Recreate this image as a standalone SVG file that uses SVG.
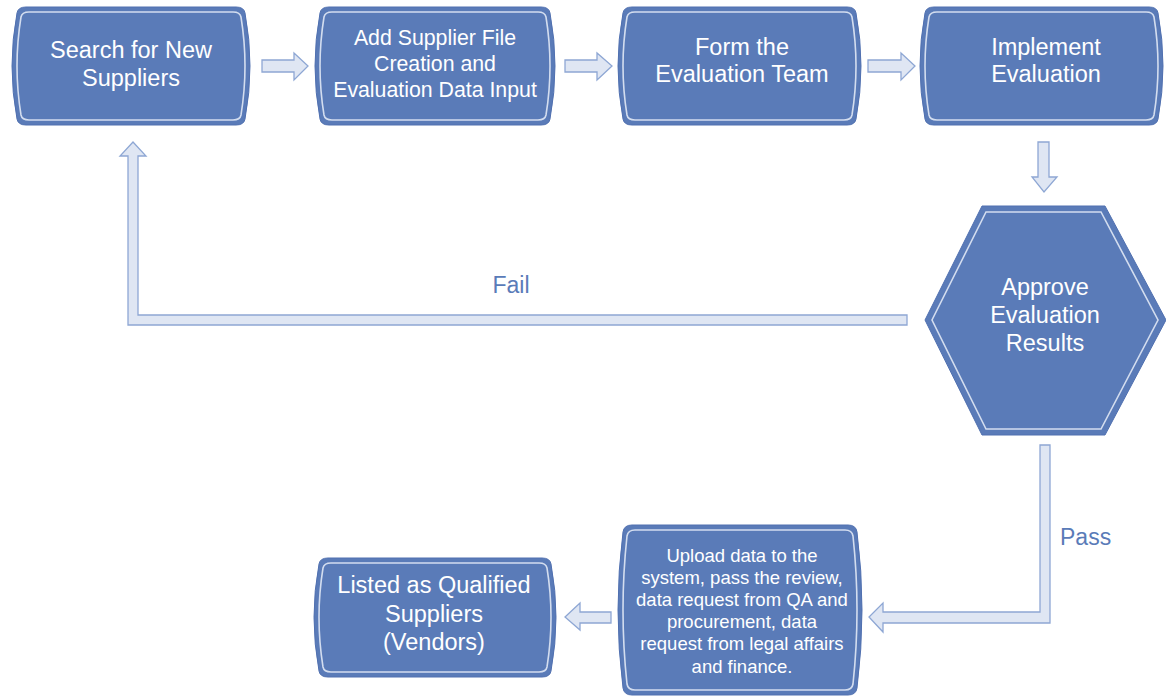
<svg xmlns="http://www.w3.org/2000/svg" width="1166" height="699" viewBox="0 0 1166 699">
<style>
.node{fill:#5a7bb8;stroke:#5070b0;stroke-width:1}
.inner{fill:none;stroke:#d3ddef;stroke-width:1.6}
.t{font-family:"Liberation Sans",Arial,sans-serif;fill:#ffffff;text-anchor:middle}
.lbl{font-family:"Liberation Sans",Arial,sans-serif;fill:#5a7bb8;font-size:23px}
.conn{fill:#dfe6f3;stroke:#8ea7d4;stroke-width:1.3;stroke-linejoin:miter}
</style>
<rect width="1166" height="699" fill="#ffffff"/>
<g id="connectors">
<polygon class="conn" points="262,60 294,60 294,53 308,66 294,80 294,72 262,72"/>
<polygon class="conn" points="565,60 597,60 597,53 612,66 597,80 597,72 565,72"/>
<polygon class="conn" points="868,60 901,60 901,53 915,66 901,80 901,72 868,72"/>
<polygon class="conn" points="1038,142 1049,142 1049,177 1057,177 1044,192 1032,177 1038,177"/>
<polygon class="conn" points="907,315 138,315 138,156 146,156 133,142 120,156 128,156 128,325 907,325"/>
<polygon class="conn" points="1040,445 1050,445 1050,623 883,623 883,632 869,617 883,603 883,612 1040,612"/>
<polygon class="conn" points="611,612 580,612 580,603 565,617 580,630 580,623 611,623"/>
<text class="lbl" x="511" y="293" text-anchor="middle">Fail</text>
<text class="lbl" x="1060" y="545">Pass</text>
</g>
<g id="n1">
<path class="node" d="M26,7 H236 Q244,7 245,13 Q255,66 245,119 Q244,125 236,125 H26 Q18,125 17,119 Q7,66 17,13 Q18,7 26,7 Z"/>
<path class="inner" d="M29,12 H233 Q240,12 241,17 Q249,66 241,115 Q240,120 233,120 H29 Q22,120 21,115 Q13,66 21,17 Q22,12 29,12 Z"/>
<text class="t" font-size="23.5"><tspan x="131" y="58">Search for New</tspan><tspan x="131" y="86">Suppliers</tspan></text>
</g>
<g id="n2">
<path class="node" d="M329,7 H541 Q549,7 550,13 Q560,66 550,119 Q549,125 541,125 H329 Q321,125 320,119 Q310,66 320,13 Q321,7 329,7 Z"/>
<path class="inner" d="M332,12 H538 Q545,12 546,17 Q554,66 546,115 Q545,120 538,120 H332 Q325,120 324,115 Q316,66 324,17 Q325,12 332,12 Z"/>
<text class="t" font-size="21.3"><tspan x="435" y="45">Add Supplier File</tspan><tspan x="435" y="71">Creation and</tspan><tspan x="435" y="97">Evaluation Data Input</tspan></text>
</g>
<g id="n3">
<path class="node" d="M632,7 H847 Q855,7 856,13 Q866,66 856,119 Q855,125 847,125 H632 Q624,125 623,119 Q613,66 623,13 Q624,7 632,7 Z"/>
<path class="inner" d="M635,12 H844 Q851,12 852,17 Q860,66 852,115 Q851,120 844,120 H635 Q628,120 627,115 Q619,66 627,17 Q628,12 635,12 Z"/>
<text class="t" font-size="23.5"><tspan x="742" y="55">Form the</tspan><tspan x="742" y="82">Evaluation Team</tspan></text>
</g>
<g id="n4">
<path class="node" d="M934,7 H1149 Q1157,7 1158,13 Q1168,66 1158,119 Q1157,125 1149,125 H934 Q926,125 925,119 Q915,66 925,13 Q926,7 934,7 Z"/>
<path class="inner" d="M937,12 H1146 Q1153,12 1154,17 Q1162,66 1154,115 Q1153,120 1146,120 H937 Q930,120 929,115 Q921,66 929,17 Q930,12 937,12 Z"/>
<text class="t" font-size="23.5"><tspan x="1046" y="55">Implement</tspan><tspan x="1046" y="82">Evaluation</tspan></text>
</g>
<g id="n5">
<path class="node" d="M982,206 H1105 L1166,320 L1105,435 H982 L925,320 Z"/>
<path class="inner" d="M986,212 H1101 L1158,320 L1101,429 H986 L932,320 Z"/>
<text class="t" font-size="23.5"><tspan x="1045" y="295">Approve</tspan><tspan x="1045" y="323">Evaluation</tspan><tspan x="1045" y="351">Results</tspan></text>
</g>
<g id="n6">
<path class="node" d="M632,525 H848 Q856,525 857,532 Q867,610 857,688 Q856,695 848,695 H632 Q624,695 623,688 Q613,610 623,532 Q624,525 632,525 Z"/>
<path class="inner" d="M635,530 H845 Q852,530 853,536 Q861,610 853,684 Q852,690 845,690 H635 Q628,690 627,684 Q619,610 627,536 Q628,530 635,530 Z"/>
<text class="t" font-size="18.5"><tspan x="742" y="562">Upload data to the</tspan><tspan x="742" y="584">system, pass the review,</tspan><tspan x="742" y="606">data request from QA and</tspan><tspan x="742" y="628">procurement, data</tspan><tspan x="742" y="650">request from legal affairs</tspan><tspan x="742" y="673">and finance.</tspan></text>
</g>
<g id="n7">
<path class="node" d="M328,558 H542 Q550,558 551,564 Q561,617 551,671 Q550,677 542,677 H328 Q320,677 319,671 Q309,617 319,564 Q320,558 328,558 Z"/>
<path class="inner" d="M331,563 H539 Q546,563 547,568 Q555,617 547,667 Q546,672 539,672 H331 Q324,672 323,667 Q315,617 323,568 Q324,563 331,563 Z"/>
<text class="t" font-size="23.5"><tspan x="434" y="593">Listed as Qualified</tspan><tspan x="434" y="622">Suppliers</tspan><tspan x="434" y="650">(Vendors)</tspan></text>
</g>
</svg>
